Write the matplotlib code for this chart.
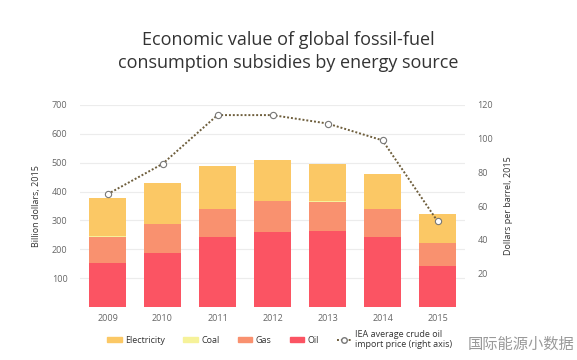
import matplotlib.pyplot as plt
import numpy as np
from matplotlib.patches import Patch
from matplotlib.lines import Line2D

years = ['2009', '2010', '2011', '2012', '2013', '2014', '2015']
oil = [151, 186, 241, 260, 264, 241, 142]
gas = [93, 102, 97, 108, 101, 97, 80]
coal = [1, 1, 1, 1, 1, 1, 1]
electricity = [134, 139, 148, 140, 128, 121, 99]
oil_price = [67, 85, 114, 114, 109, 99, 51]

c_elec = '#fbc865'
c_coal = '#f6f29a'
c_gas = '#f9916f'
c_oil = '#fb5463'
c_line = '#6e5e3c'

plt.rcParams['font.family'] = ['Open Sans', 'DejaVu Sans']

fig = plt.figure(figsize=(5.77, 3.6), dpi=100)
ax = fig.add_axes([80/577, 53/360, 385/577, 202/360])

x = np.arange(len(years))
w = 0.67
b1 = np.array(oil)
b2 = b1 + np.array(gas)
b3 = b2 + np.array(coal)
ax.bar(x, oil, w, color=c_oil, zorder=2)
ax.bar(x, gas, w, bottom=b1, color=c_gas, zorder=2)
ax.bar(x, coal, w, bottom=b2, color=c_coal, zorder=2)
ax.bar(x, electricity, w, bottom=b3, color=c_elec, zorder=2)

ax.set_xlim(-0.5, 6.5)
ax.set_ylim(0, 700)
ax.set_yticks(range(100, 701, 100))
ax.set_xticks(x)
ax.set_xticklabels(years)
ax.yaxis.grid(True, color='#ececec', linewidth=0.8, zorder=0)
for s in ax.spines.values():
    s.set_visible(False)
ax.tick_params(length=0, labelsize=6.5, colors='#666666', pad=9)
ax.tick_params(axis='x', pad=5)
ax.set_ylabel('Billion dollars, 2015', fontsize=6.5, color='#333333', labelpad=8)

ax2 = ax.twinx()
ax2.set_ylim(0, 120)
ax2.set_yticks(range(20, 121, 20))
ax2.plot(x, oil_price, linestyle=(0, (1, 1)), color=c_line, linewidth=1.4,
         marker='o', markersize=4.5, markerfacecolor='white', markeredgecolor='#777777',
         markeredgewidth=0.8, zorder=3)
for s in ax2.spines.values():
    s.set_visible(False)
ax2.tick_params(length=0, labelsize=6.5, colors='#666666', pad=9)
ax2.set_ylabel('Dollars per barrel, 2015', fontsize=6.5, color='#333333', labelpad=8)

fig.text(0.5, 0.857, 'Economic value of global fossil-fuel\nconsumption subsidies by energy source',
         ha='center', va='center', fontsize=13, color='#333333', linespacing=1.35)

handles = [Patch(color=c_elec), Patch(color=c_coal), Patch(color=c_gas), Patch(color=c_oil),
           Line2D([], [], linestyle=(0, (1, 1)), color=c_line, linewidth=1.4, marker='o',
                  markersize=4, markerfacecolor='white', markeredgecolor='#777777')]
labels = ['Electricity', 'Coal', 'Gas', 'Oil', 'IEA average crude oil\nimport price (right axis)']
fig.legend(handles, labels, loc='center', bbox_to_anchor=(0.485, 0.057), ncol=5, frameon=False,
           fontsize=6.5, handlelength=1.6, handleheight=0.5, columnspacing=2.0, handletextpad=0.4,
           labelcolor='#333333')

fig.text(0.995, 0.045, '国际能源小数据', ha='right', va='center', fontsize=11, color='#999999',
         family=['Noto Sans CJK SC', 'DejaVu Sans'])

fig.savefig('out.png', dpi=100)
